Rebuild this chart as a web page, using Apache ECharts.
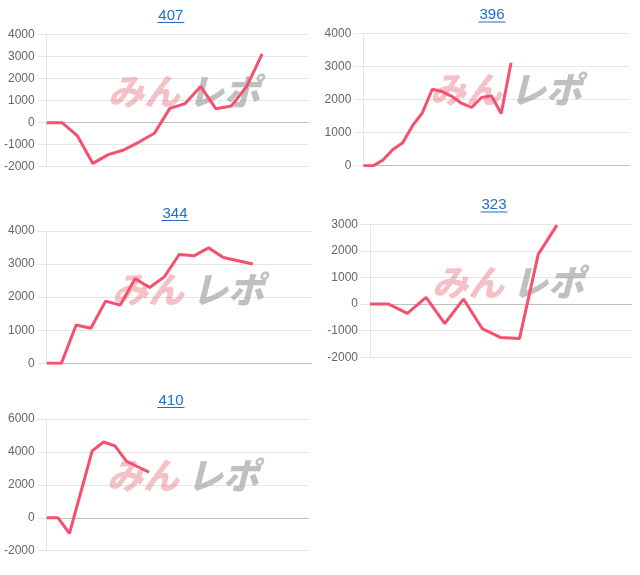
<!DOCTYPE html>
<html>
<head>
<meta charset="utf-8">
<script src="https://cdn.jsdelivr.net/npm/echarts@6/dist/echarts.min.js"></script>
<style>
html,body{margin:0;padding:0;background:#fff;}
#c{width:640px;height:575px;}
</style>
</head>
<body>
<div id="c"></div>
<script>
// ---- data ----
const titles = ['407', '396', '344', '323', '410'];

const cats407 = ['1','2','3','4','5','6','7','8','9','10','11','12','13','14','15','16','17','18'];
const vals407 = [0, 0, -600, -1850, -1450, -1240, -880, -480, 650, 870, 1650, 630, 760, 1650, 3130];

const cats396 = ['1','2','3','4','5','6','7','8','9','10','11','12','13','14','15','16','17','18','19','20','21','22','23','24','25','26','27','28'];
const vals396 = [0, 0, 170, 490, 690, 1210, 1600, 2310, 2240, 2090, 1880, 1760, 2060, 2110, 1580, 3110];

const cats344 = ['1','2','3','4','5','6','7','8','9','10','11','12','13','14','15','16','17','18','19'];
const vals344 = [0, 0, 1160, 1060, 1880, 1760, 2560, 2290, 2620, 3290, 3250, 3490, 3200, 3100, 3000];

const cats323 = ['1','2','3','4','5','6','7','8','9','10','11','12','13','14','15'];
const vals323 = [0, 0, -350, 250, -730, 190, -920, -1260, -1290, 1870, 2970];

const cats410 = ['1','2','3','4','5','6','7','8','9','10','11','12','13','14','15','16','17','18','19','20','21','22','23','24'];
const vals410 = [0, 0, -950, 1550, 4060, 4600, 4370, 3440, 3100, 2770];

const yMin = [-2000, 0, 0, -2000, -2000];
const yMax = [4000, 4000, 4000, 3000, 6000];
const yStep = [1000, 1000, 1000, 1000, 2000];

const allCats = [cats407, cats396, cats344, cats323, cats410];
const allVals = [vals407, vals396, vals344, vals323, vals410];

// ---- layout (pixels) ----
const grids = [
  {left: 46.7, top: 34.7, width: 261.6, height: 132},
  {left: 363.3, top: 33.3, width: 266, height: 132.4},
  {left: 46.7, top: 231, width: 265, height: 132.3},
  {left: 370, top: 224.3, width: 261.7, height: 133},
  {left: 46.7, top: 419, width: 261.6, height: 131.7}
];
const titlePos = [[170.8, 15.5], [492, 15], [175, 213.5], [494, 205], [171, 400.5]];
const markPos = [[108, 91], [430, 89.5], [112, 289], [432, 282.5], [107, 475]];

const LINE = '#f5506e';
const GRID = '#e6e6e6';
const ZERO = '#bfbfbf';
const LINK = '#1f6fc5';

const option = {
  animation: false,
  backgroundColor: '#fff',
  grid: grids.map(g => Object.assign({containLabel: false}, g)),
  xAxis: allCats.map((c, i) => ({
    type: 'category', gridIndex: i, data: c, boundaryGap: false,
    axisLine: {show: true, onZero: true, lineStyle: {color: ZERO, width: 1}},
    axisTick: {show: false}, axisLabel: {show: false}, splitLine: {show: false}
  })),
  yAxis: allVals.map((v, i) => ({
    type: 'value', gridIndex: i, min: yMin[i], max: yMax[i], interval: yStep[i],
    axisLine: {show: true, lineStyle: {color: GRID}},
    axisTick: {show: true, length: 9, lineStyle: {color: GRID}},
    splitLine: {show: true, lineStyle: {color: GRID}},
    axisLabel: {color: '#666', fontSize: 12, fontFamily: 'Liberation Sans, Arial, sans-serif', margin: 12,
      formatter: val => String(val)}
  })),
  series: allVals.map((v, i) => ({
    type: 'line', xAxisIndex: i, yAxisIndex: i, data: v,
    showSymbol: false, symbol: 'none', smooth: false, z: 5,
    lineStyle: {color: LINE, width: 3}
  })),
  graphic: []
};

titles.forEach((t, i) => {
  const [x, y] = titlePos[i];
  option.graphic.push({
    type: 'text', x: x, y: y, z: 10,
    style: {text: t, align: 'center', verticalAlign: 'middle', fill: LINK,
      font: '15px "Liberation Sans", Arial, sans-serif'}
  });
  option.graphic.push({
    type: 'line', z: 10,
    shape: {x1: x - 13.5, y1: y + 7, x2: x + 13.5, y2: y + 7},
    style: {stroke: LINK, lineWidth: 1}
  });
});

markPos.forEach(([x, cy]) => {
  option.graphic.push({
    type: 'text', x: x, y: cy, z: 1,
    style: {text: 'みん', align: 'left', verticalAlign: 'middle',
      fill: 'rgba(228,110,120,0.42)',
      font: 'italic 900 36px "Noto Sans CJK JP", sans-serif'}
  });
  option.graphic.push({
    type: 'text', x: x + 80, y: cy, z: 1,
    style: {text: 'レポ', align: 'left', verticalAlign: 'middle',
      fill: 'rgba(140,140,140,0.55)',
      font: 'italic 900 36px "Noto Sans CJK JP", sans-serif'}
  });
});

const chart = echarts.init(document.getElementById('c'), null, {renderer: 'canvas'});
chart.setOption(option);
</script>
</body>
</html>
